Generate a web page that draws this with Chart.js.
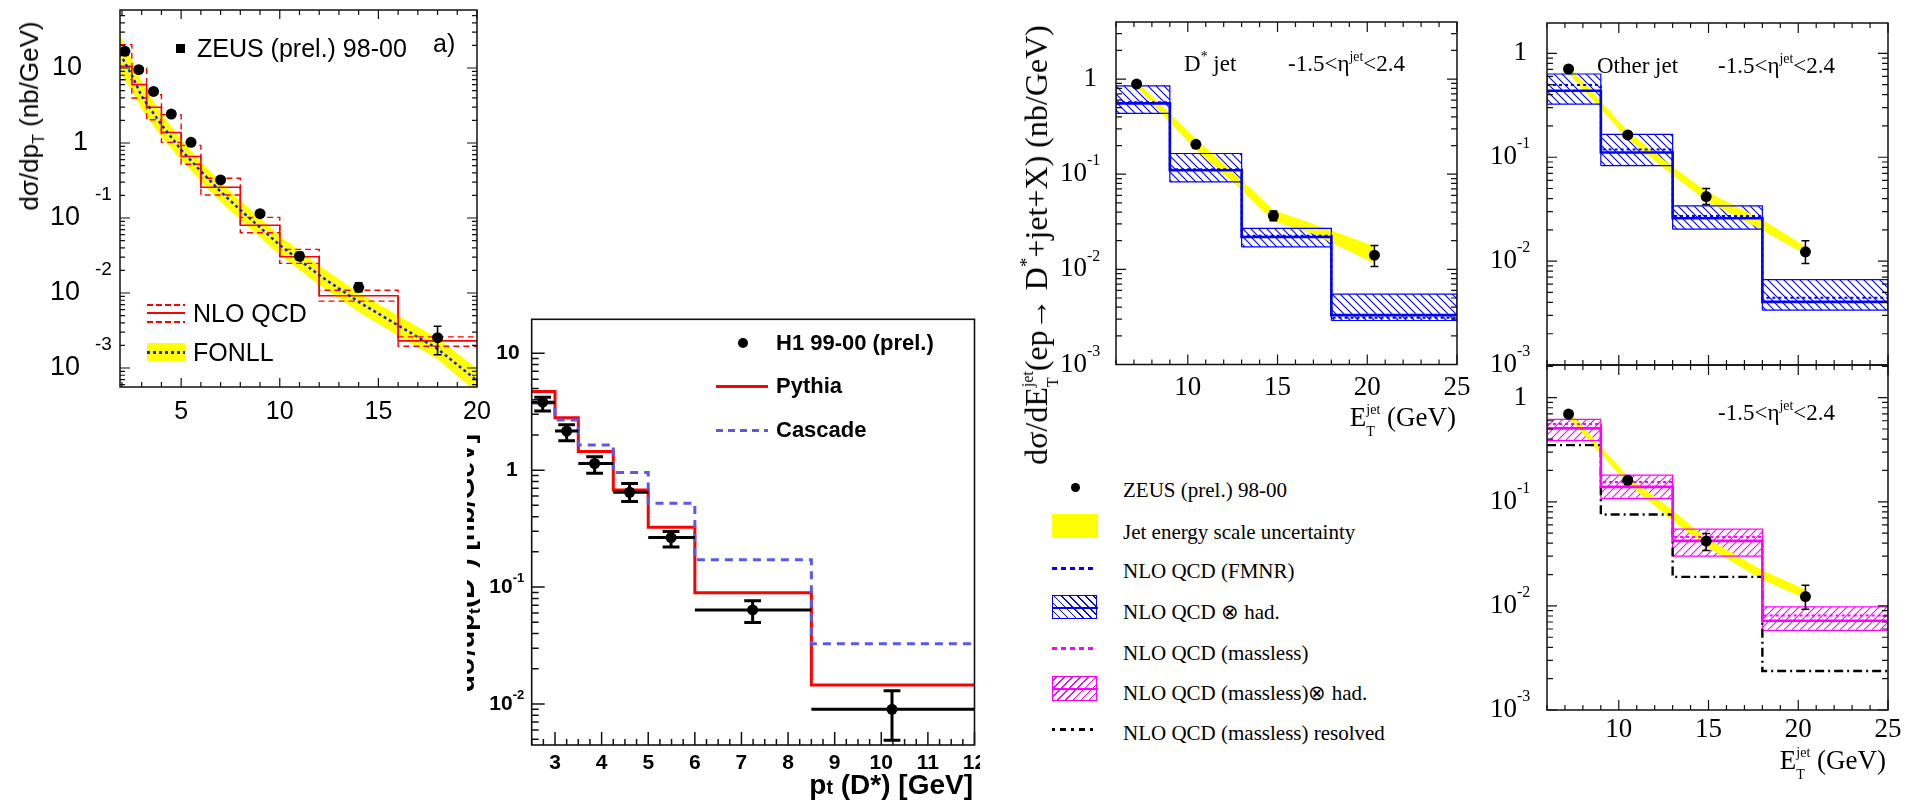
<!DOCTYPE html>
<html>
<head>
<meta charset="utf-8">
<script src="https://cdn.jsdelivr.net/npm/chart.js@4.4.1/dist/chart.umd.min.js"></script>
<style>
  html, body { margin: 0; padding: 0; background: #fff; }
  body { width: 1918px; height: 805px; position: relative; overflow: hidden; }
  canvas { position: absolute; }
  .t { position: absolute; white-space: nowrap; line-height: 1; color: #000; transform: translateY(-50%); }
  .r { transform: translate(-100%, -50%); }
  .rot { transform: translate(-50%, -50%) rotate(-90deg); }
  .sans { font-family: "Liberation Sans", Arial, sans-serif; }
  .serif { font-family: "Liberation Serif", "Times New Roman", serif; }
  .b { font-weight: bold; }
  sup { font-size: 0.6em; vertical-align: baseline; position: relative; top: -0.75em; }
  sub { font-size: 0.62em; vertical-align: baseline; position: relative; top: 0.35em; }
  .ss { position: relative; display: inline-block; }
  .ss .hi { position: relative; }
  .ss .lo { position: absolute; left: 0; }
  .sym { position: absolute; }
  .clip { position: absolute; overflow: hidden; }
  .rdash { background: repeating-linear-gradient(90deg, #f00 0 6px, transparent 6px 9px); height: 1.5px; }
</style>
</head>
<body>
<canvas id="cA"></canvas>
<canvas id="cB"></canvas>
<canvas id="cC"></canvas>
<canvas id="cD"></canvas>
<canvas id="cE"></canvas>

<!-- a) legend and titles -->
<div class="sym" style="left:176px;top:44px;width:9px;height:9px;background:#000"></div>
<div class="t sans" style="left:197px;top:48px;font-size:25px">ZEUS (prel.) 98-00</div>
<div class="t sans" style="left:433px;top:43px;font-size:25px">a)</div>
<div class="sym rdash" style="left:147px;top:304px;width:38px"></div>
<div class="sym" style="left:147px;top:312px;width:38px;height:2px;background:#f00"></div>
<div class="sym rdash" style="left:147px;top:321px;width:38px"></div>
<div class="t sans" style="left:193px;top:313px;font-size:25px">NLO QCD</div>
<div class="sym" style="left:147px;top:343px;width:38px;height:18px;background:#ff0"></div>
<div class="sym" style="left:147px;top:351px;width:38px;height:2.5px;background:repeating-linear-gradient(90deg,#1a1aff 0 3px,transparent 3px 6px)"></div>
<div class="t sans" style="left:193px;top:352px;font-size:25px">FONLL</div>
<div class="t sans rot" style="left:29px;top:116px;font-size:26px">dσ/dp<sub>T</sub> (nb/GeV)</div>

<!-- H1 panel legend and titles -->
<div class="clip" style="left:467px;top:420px;width:30px;height:300px">
  <div class="t sans b rot" style="left:-2px;top:143px;font-size:28px">dσ/dp<sub>t</sub>(D*) [nb/GeV]</div>
</div>
<div class="sym" style="left:738px;top:338px;width:10px;height:10px;border-radius:50%;background:#000"></div>
<div class="t sans b" style="left:776px;top:343px;font-size:22px">H1 99-00 (prel.)</div>
<div class="sym" style="left:716px;top:385px;width:52px;height:3px;background:#f00"></div>
<div class="t sans b" style="left:776px;top:386px;font-size:22px">Pythia</div>
<div class="sym" style="left:716px;top:429px;width:52px;height:3px;background:repeating-linear-gradient(90deg,#5a5ae6 0 7px,transparent 7px 12px)"></div>
<div class="t sans b" style="left:776px;top:430px;font-size:22px">Cascade</div>
<div class="t sans b r" style="left:973px;top:785px;font-size:28px">p<span style="font-size:0.7em">t</span> (D*) [GeV]</div>

<!-- D* jet / other jet panels: texts -->
<div class="t serif" style="left:1184px;top:63px;font-size:23px">D<sup>*</sup> jet</div>
<div class="t serif" style="left:1288px;top:63px;font-size:23px">-1.5&lt;η<sup>jet</sup>&lt;2.4</div>
<div class="t serif" style="left:1597px;top:65px;font-size:23px">Other jet</div>
<div class="t serif" style="left:1718px;top:65px;font-size:23px">-1.5&lt;η<sup>jet</sup>&lt;2.4</div>
<div class="t serif" style="left:1718px;top:412px;font-size:23px">-1.5&lt;η<sup>jet</sup>&lt;2.4</div>
<div class="t serif r" style="left:1456px;top:417px;font-size:27px">E<span class="ss"><span class="hi" style="font-size:14px;top:-12px">jet</span><span class="lo" style="font-size:14px;top:21px">T</span></span> (GeV)</div>
<div class="t serif r" style="left:1886px;top:760px;font-size:27px">E<span class="ss"><span class="hi" style="font-size:14px;top:-12px">jet</span><span class="lo" style="font-size:14px;top:21px">T</span></span> (GeV)</div>
<div class="t serif rot" style="left:1036px;top:245px;font-size:32px">dσ/dE<span class="ss"><span class="hi" style="font-size:16px;top:-14px">jet</span><span class="lo" style="font-size:16px;top:25px">T</span></span>(ep→ D<sup>*</sup>+jet+X) (nb/GeV)</div>

<!-- jet panels legend -->
<div class="sym" style="left:1071px;top:483px;width:9px;height:9px;border-radius:50%;background:#000"></div>
<div class="t serif" style="left:1123px;top:490px;font-size:21px">ZEUS (prel.) 98-00</div>
<div class="sym" style="left:1052px;top:514px;width:46px;height:24px;background:#ff0"></div>
<div class="t serif" style="left:1123px;top:532px;font-size:21px">Jet energy scale uncertainty</div>
<div class="sym" style="left:1052px;top:567px;width:44px;height:3px;background:repeating-linear-gradient(90deg,#00f 0 5px,transparent 5px 9px)"></div>
<div class="t serif" style="left:1123px;top:571px;font-size:21px">NLO QCD (FMNR)</div>
<div class="sym" style="left:1052px;top:595px;width:43px;height:22px;border:1.5px solid #00f;background:repeating-linear-gradient(45deg,transparent 0 4.4px,#00f 4.4px 5.6px)"></div>
<div class="sym" style="left:1052px;top:607px;width:46px;height:2px;background:#00f"></div>
<div class="t serif" style="left:1123px;top:612px;font-size:21px">NLO QCD ⊗ had.</div>
<div class="sym" style="left:1052px;top:647px;width:44px;height:3px;background:repeating-linear-gradient(90deg,#f0f 0 5px,transparent 5px 9px)"></div>
<div class="t serif" style="left:1123px;top:653px;font-size:21px">NLO QCD (massless)</div>
<div class="sym" style="left:1052px;top:676px;width:43px;height:23px;border:1.5px solid #f0f;background:repeating-linear-gradient(-45deg,transparent 0 4.4px,#f0f 4.4px 5.6px)"></div>
<div class="sym" style="left:1052px;top:688px;width:46px;height:2px;background:#f0f"></div>
<div class="t serif" style="left:1123px;top:693px;font-size:21px">NLO QCD (massless)⊗ had.</div>
<div class="sym" style="left:1052px;top:728px;width:44px;height:3px;background:repeating-linear-gradient(90deg,#000 0 3px,transparent 3px 8px,#000 8px 14px,transparent 14px 19px)"></div>
<div class="t serif" style="left:1123px;top:733px;font-size:21px">NLO QCD (massless) resolved</div>

<script>
// ---- a) ZEUS D* cross section vs pT ----
const aPtX  = [2.15, 2.85, 3.6, 4.5, 5.5, 7, 9, 11, 14, 18];
const aPtY  = [16.7, 9.5, 4.87, 2.43, 1.02, 0.322, 0.114, 0.031, 0.0119, 0.00254];
const aPtLo = [15.2, 8.8, 4.5, 2.25, 0.95, 0.30, 0.106, 0.0275, 0.0104, 0.0015];
const aPtHi = [18.3, 10.2, 5.25, 2.62, 1.09, 0.345, 0.123, 0.0348, 0.0137, 0.0036];
const aNloEdges = [1.9, 2.5, 3.25, 4, 5, 6, 8, 10, 12, 16, 20];
const aNloMid = [10.5, 6.0, 3.0, 1.38, 0.66, 0.257, 0.080, 0.0304, 0.0092, 0.0023];
const aNloUp  = [20.5, 10.0, 4.4, 2.38, 0.93, 0.339, 0.102, 0.0381, 0.0109, 0.0026];
const aNloDn  = [7.0, 3.97, 2.04, 1.02, 0.52, 0.203, 0.0637, 0.0248, 0.0078, 0.00195];
const aFonllX   = [1.9, 2.5, 3, 4, 5, 6, 7, 8, 10, 12, 14, 16, 18, 20];
const aFonllMid = [15.5, 8.0, 4.2, 1.75, 0.81, 0.42, 0.225, 0.128, 0.0435, 0.0173, 0.0076, 0.0037, 0.0018, 0.00068];
const aFonllUp  = [28, 13, 6.4, 2.5, 1.1, 0.56, 0.30, 0.17, 0.058, 0.023, 0.0101, 0.005, 0.0025, 0.00098];
const aFonllDn  = [8.8, 5.0, 2.8, 1.2, 0.59, 0.31, 0.165, 0.095, 0.032, 0.0128, 0.0056, 0.0027, 0.0013, 0.00047];

// ---- H1 D* cross section vs pt ----
const bEdges  = [2.5, 3, 3.5, 4.25, 5, 6, 8.5, 12];
const bH1X    = [2.735, 3.25, 3.85, 4.6, 5.49, 7.24, 10.23];
const bH1Y    = [3.81, 2.16, 1.14, 0.647, 0.265, 0.0637, 0.0090];
const bH1Lo   = [3.2, 1.78, 0.94, 0.54, 0.22, 0.0497, 0.0049];
const bH1Hi   = [4.2, 2.45, 1.3, 0.77, 0.298, 0.0763, 0.0130];
const bPythia  = [4.7, 2.8, 1.44, 0.678, 0.325, 0.0896, 0.01456];
const bCascade = [3.75, 2.68, 1.64, 0.953, 0.521, 0.171, 0.0327];

// ---- jet ET panels ----
const jetEdges = [6, 9, 13, 18, 25];
// D* jet
const cX  = [7.15, 10.45, 14.77, 20.4];
const cY  = [0.886, 0.206, 0.0366, 0.0141];
const cLo = [0.85, 0.195, 0.0325, 0.0107];
const cHi = [0.92, 0.217, 0.041, 0.0178];
const cHadHi  = [0.85, 0.165, 0.027, 0.0055];
const cHadLo  = [0.435, 0.083, 0.0172, 0.0029];
const cHadMid = [0.555, 0.110, 0.0219, 0.0033];
const cFmnr   = [0.57, 0.113, 0.0226, 0.0031];
const cBandX  = [7.15, 10.45, 13, 14.77, 17, 20.4];
const cBandHi = [0.95, 0.235, 0.087, 0.042, 0.030, 0.0175];
const cBandLo = [0.82, 0.18, 0.068, 0.032, 0.0235, 0.0115];
// other jet
const dX  = [7.2, 10.5, 14.87, 20.4];
const dY  = [0.707, 0.164, 0.0418, 0.0123];
const dLo = [0.68, 0.156, 0.035, 0.0095];
const dHi = [0.735, 0.172, 0.05, 0.0157];
const dHadHi  = [0.633, 0.166, 0.0341, 0.00663];
const dHadLo  = [0.325, 0.083, 0.0203, 0.00338];
const dHadMid = [0.437, 0.111, 0.0259, 0.00405];
const dFmnr   = [0.496, 0.119, 0.0272, 0.00445];
const dBandX  = [7.2, 10.5, 13, 14.87, 18, 20.4];
const dBandHi = [0.76, 0.178, 0.081, 0.047, 0.025, 0.0138];
const dBandLo = [0.64, 0.15, 0.067, 0.038, 0.0198, 0.0116];
// other jet, massless calculation
const eX  = [7.2, 10.5, 14.87, 20.4];
const eY  = [0.696, 0.161, 0.0419, 0.0123];
const eLo = [0.67, 0.153, 0.034, 0.0093];
const eHi = [0.72, 0.169, 0.0497, 0.0158];
const eMlHi  = [0.618, 0.180, 0.0546, 0.0098];
const eMlLo  = [0.386, 0.107, 0.0301, 0.0058];
const eMlMid = [0.507, 0.139, 0.0421, 0.0072];
const eMassless = [0.558, 0.155, 0.046, 0.0081];
const eResolved = [0.35, 0.0755, 0.019, 0.00237];
const eBandX  = [7.2, 10.5, 13, 14.87, 18, 20.4];
const eBandHi = [0.75, 0.175, 0.083, 0.045, 0.022, 0.0143];
const eBandLo = [0.64, 0.148, 0.066, 0.037, 0.0178, 0.0117];

// ---------- helpers ----------
const pts = (xs, ys) => xs.map((x, i) => ({x, y: ys[i]}));
const steps = (edges, vals) => edges.map((e, i) => ({x: e, y: vals[Math.min(i, vals.length - 1)]}));
const vbars = (xs, lo, hi) => xs.flatMap((x, i) => [{x, y: lo[i]}, {x, y: hi[i]}, {x, y: null}]);
const caps = (xs, ys, w) => xs.flatMap((x, i) => [{x: x - w, y: ys[i]}, {x: x + w, y: ys[i]}, {x, y: null}]);
const hbars = (edges, ys) => ys.flatMap((y, i) => [{x: edges[i], y}, {x: edges[i + 1], y}, {x: edges[i + 1], y: null}]);
const boxes = (edges, lo, hi) => lo.flatMap((l, i) => [
  {x: edges[i], y: l}, {x: edges[i], y: hi[i]}, {x: edges[i + 1], y: hi[i]},
  {x: edges[i + 1], y: l}, {x: edges[i], y: l}, {x: edges[i + 1], y: null}
]);

function line(data, color, width, dash, order, extra) {
  return Object.assign({
    type: 'line', data, borderColor: color, borderWidth: width, borderDash: dash || [],
    pointRadius: 0, fill: false, spanGaps: false, tension: 0, order
  }, extra || {});
}
function markers(xs, ys, r) {
  return {
    type: 'line', data: pts(xs, ys), showLine: false, pointRadius: r,
    pointBackgroundColor: '#000', pointBorderColor: '#000', pointBorderWidth: 0, order: 0
  };
}
function band(xs, hi, lo, color, order) {
  return [
    line(pts(xs, hi), 'rgba(0,0,0,0)', 0, null, order),
    line(pts(xs, lo), 'rgba(0,0,0,0)', 0, null, order, {fill: '-1', backgroundColor: color})
  ];
}
function makeHatch(color, dir) {
  const s = 8;
  const c = document.createElement('canvas');
  c.width = s; c.height = s;
  const g = c.getContext('2d');
  g.strokeStyle = color;
  g.lineWidth = 1.1;
  g.beginPath();
  if (dir === 'back') {
    g.moveTo(-1, -1); g.lineTo(s + 1, s + 1);
    g.moveTo(-1, s - 1); g.lineTo(1, s + 1);
    g.moveTo(s - 1, -1); g.lineTo(s + 1, 1);
  } else {
    g.moveTo(-1, s + 1); g.lineTo(s + 1, -1);
    g.moveTo(-1, 1); g.lineTo(1, -1);
    g.moveTo(s - 1, s + 1); g.lineTo(s + 1, s - 1);
  }
  g.stroke();
  return g.createPattern(c, 'repeat');
}
function hatchFills(edges, lo, hi, pattern) {
  return lo.map((l, i) => ({
    type: 'line', data: [{x: edges[i], y: hi[i]}, {x: edges[i + 1], y: hi[i]}],
    borderWidth: 0, borderColor: 'rgba(0,0,0,0)', pointRadius: 0,
    fill: {value: l}, backgroundColor: pattern, order: 9
  }));
}

// frame, inward ticks and tick labels, drawn ROOT style
function makeDecor(cfg) {
  return {
    id: 'decor',
    afterDraw(chart) {
      const {ctx, chartArea: a, scales: {x, y}} = chart;
      ctx.save();
      ctx.strokeStyle = '#111';
      ctx.lineWidth = cfg.frameWidth || 1.5;
      ctx.strokeRect(a.left, a.top, a.right - a.left, a.bottom - a.top);
      ctx.lineWidth = cfg.tickWidth || 1.2;
      ctx.beginPath();
      const i0 = Math.ceil(x.min / cfg.xMinor - 1e-6), i1 = Math.floor(x.max / cfg.xMinor + 1e-6);
      for (let i = i0; i <= i1; i++) {
        const v = i * cfg.xMinor;
        const px = x.getPixelForValue(v);
        const r = v / cfg.xMajor;
        const len = Math.abs(r - Math.round(r)) < 1e-6 ? cfg.xMajorLen : cfg.xMinorLen;
        if (cfg.xSides.includes('bottom')) { ctx.moveTo(px, a.bottom); ctx.lineTo(px, a.bottom - len); }
        if (cfg.xSides.includes('top')) { ctx.moveTo(px, a.top); ctx.lineTo(px, a.top + len); }
      }
      const e0 = Math.floor(Math.log10(y.min) + 1e-6), e1 = Math.ceil(Math.log10(y.max));
      for (let e = e0; e <= e1; e++) {
        for (let k = 1; k < 10; k++) {
          const v = k * Math.pow(10, e);
          if (v < y.min * 0.999 || v > y.max * 1.001) continue;
          const py = y.getPixelForValue(v);
          const len = k === 1 ? cfg.yMajorLen : cfg.yMinorLen;
          if (cfg.ySides.includes('left')) { ctx.moveTo(a.left, py); ctx.lineTo(a.left + len, py); }
          if (cfg.ySides.includes('right')) { ctx.moveTo(a.right, py); ctx.lineTo(a.right - len, py); }
        }
      }
      ctx.stroke();

      ctx.fillStyle = '#000';
      ctx.textBaseline = 'middle';
      ctx.font = cfg.xFont || cfg.font;
      ctx.textAlign = 'center';
      for (const v of cfg.xLabels) {
        ctx.fillText(String(v), x.getPixelForValue(v), a.bottom + cfg.xLabelDy);
      }
      for (const l of cfg.yLabels) {
        const py = y.getPixelForValue(l.v);
        ctx.font = cfg.font;
        ctx.textAlign = 'right';
        ctx.fillText(l.t, a.left - l.r, py);
        if (l.e) {
          ctx.font = cfg.expFont;
          ctx.textAlign = 'left';
          ctx.fillText(l.e, a.left - cfg.expX, py + cfg.expDy);
        }
      }
      ctx.restore();
    }
  };
}

function makeChart(id, box, pad, xr, yr, datasets, decor) {
  const cv = document.getElementById(id);
  cv.style.left = box[0] + 'px';
  cv.style.top = box[1] + 'px';
  cv.width = box[2];
  cv.height = box[3];
  return new Chart(cv, {
    type: 'line',
    data: {datasets},
    options: {
      responsive: false,
      animation: false,
      events: [],
      layout: {padding: pad},
      plugins: {legend: {display: false}, tooltip: {enabled: false}},
      scales: {
        x: {type: 'linear', min: xr[0], max: xr[1], bounds: 'data', display: false},
        y: {type: 'logarithmic', min: yr[0], max: yr[1], bounds: 'data', display: false}
      }
    },
    plugins: [makeDecor(decor)]
  });
}

// ---------- a) ----------
makeChart('cA', [0, 0, 490, 440], {left: 120, top: 10, right: 13, bottom: 53}, [1.9, 20], [5.58e-4, 59.3], [
  ...band(aFonllX, aFonllUp, aFonllDn, '#ffff00', 9),
  line(pts(aFonllX, aFonllMid), '#1a1aff', 2.5, [3, 3], 3),
  line(steps(aNloEdges, aNloMid), '#ff0000', 1.6, null, 4, {stepped: 'before'}),
  line(steps(aNloEdges, aNloUp), '#ff0000', 1.4, [6, 4], 4, {stepped: 'before'}),
  line(steps(aNloEdges, aNloDn), '#ff0000', 1.4, [6, 4], 4, {stepped: 'before'}),
  line(vbars(aPtX, aPtLo, aPtHi), '#000', 1.6, null, 1),
  line(caps(aPtX, aPtLo, 0.2), '#000', 1.6, null, 1),
  line(caps(aPtX, aPtHi, 0.2), '#000', 1.6, null, 1),
  markers(aPtX, aPtY, 5.5)
], {
  xMajor: 5, xMinor: 1, xMajorLen: 9, xMinorLen: 5, xSides: ['bottom', 'top'],
  yMajorLen: 10, yMinorLen: 5, ySides: ['left', 'right'],
  font: '27px "Liberation Sans"', expFont: '19px "Liberation Sans"', xFont: '25px "Liberation Sans"',
  xLabels: [5, 10, 15, 20], xLabelDy: 25,
  yLabels: [{v: 10, t: '10', r: 38}, {v: 1, t: '1', r: 32}, {v: 0.1, t: '10', e: '-1', r: 40},
            {v: 0.01, t: '10', e: '-2', r: 40}, {v: 0.001, t: '10', e: '-3', r: 40}],
  expX: 25, expDy: -23
});

// ---------- H1 ----------
makeChart('cB', [460, 300, 520, 505], {left: 71.7, top: 19.3, right: 5, bottom: 60}, [2.5, 12], [0.00446, 19.5], [
  line(steps(bEdges, bCascade), '#5a5ae6', 3, [8, 6], 4, {stepped: 'before'}),
  line(steps(bEdges, bPythia), '#ff0000', 3, null, 5, {stepped: 'before'}),
  line(vbars(bH1X, bH1Lo, bH1Hi), '#000', 3, null, 1),
  line(hbars(bEdges, bH1Y), '#000', 3, null, 1),
  line(caps(bH1X, bH1Lo, 0.18), '#000', 3, null, 1),
  line(caps(bH1X, bH1Hi, 0.18), '#000', 3, null, 1),
  markers(bH1X, bH1Y, 5.5)
], {
  xMajor: 1, xMinor: 0.25, xMajorLen: 13, xMinorLen: 6, xSides: ['bottom'],
  yMajorLen: 13, yMinorLen: 7, ySides: ['left'], frameWidth: 1.6, tickWidth: 1.5,
  font: 'bold 21px "Liberation Sans"', expFont: 'bold 13px "Liberation Sans"',
  xLabels: [3, 4, 5, 6, 7, 8, 9, 10, 11, 12], xLabelDy: 18,
  yLabels: [{v: 10, t: '10', r: 12}, {v: 1, t: '1', r: 14}, {v: 0.1, t: '10', e: '-1', r: 19},
            {v: 0.01, t: '10', e: '-2', r: 19}],
  expX: 19, expDy: -9
});

// ---------- jet panels ----------
const blueHatch = makeHatch('#0000ff', 'back');
const pinkHatch = makeHatch('#ff00ff', 'fwd');

function jetDecor(xLabels, xLabelDy, r) {
  return {
    xMajor: 5, xMinor: 1, xMajorLen: 10, xMinorLen: 5, xSides: ['bottom', 'top'],
    yMajorLen: 10, yMinorLen: 6, ySides: ['left', 'right'],
    font: '27px "Liberation Serif"', expFont: '16px "Liberation Serif"',
    xLabels, xLabelDy,
    yLabels: [{v: 1, t: '1', r: r - 10}, {v: 0.1, t: '10', e: '-1', r}, {v: 0.01, t: '10', e: '-2', r},
              {v: 0.001, t: '10', e: '-3', r}],
    expX: r, expDy: -13
  };
}

makeChart('cC', [1030, 0, 440, 440], {left: 86, top: 22, right: 13, bottom: 75.5}, [6, 25], [0.001, 3.98], [
  ...hatchFills(jetEdges, cHadLo, cHadHi, blueHatch),
  ...band(cBandX, cBandHi, cBandLo, '#ffff00', 8),
  line(boxes(jetEdges, cHadLo, cHadHi), '#0000ff', 1.2, null, 7),
  line(steps(jetEdges, cFmnr), '#0000ff', 2, [3, 3], 5, {stepped: 'before'}),
  line(steps(jetEdges, cHadMid), '#0000ff', 2.6, null, 4, {stepped: 'before'}),
  line(vbars(cX, cLo, cHi), '#000', 1.5, null, 1),
  line(caps(cX, cLo, 0.22), '#000', 1.5, null, 1),
  line(caps(cX, cHi, 0.22), '#000', 1.5, null, 1),
  markers(cX, cY, 5.5)
], jetDecor([10, 15, 20, 25], 23, 29));

makeChart('cD', [1480, 0, 438, 440], {left: 67, top: 23, right: 30, bottom: 75}, [6, 25], [0.001, 1.96], [
  ...hatchFills(jetEdges, dHadLo, dHadHi, blueHatch),
  ...band(dBandX, dBandHi, dBandLo, '#ffff00', 8),
  line(boxes(jetEdges, dHadLo, dHadHi), '#0000ff', 1.2, null, 7),
  line(steps(jetEdges, dFmnr), '#0000ff', 2, [3, 3], 5, {stepped: 'before'}),
  line(steps(jetEdges, dHadMid), '#0000ff', 2.6, null, 4, {stepped: 'before'}),
  line(vbars(dX, dLo, dHi), '#000', 1.5, null, 1),
  line(caps(dX, dLo, 0.22), '#000', 1.5, null, 1),
  line(caps(dX, dHi, 0.22), '#000', 1.5, null, 1),
  markers(dX, dY, 5.5)
], jetDecor([], 0, 30));

makeChart('cE', [1480, 350, 438, 455], {left: 67, top: 15, right: 30, bottom: 95}, [6, 25], [0.001, 2.06], [
  ...hatchFills(jetEdges, eMlLo, eMlHi, pinkHatch),
  ...band(eBandX, eBandHi, eBandLo, '#ffff00', 8),
  line(boxes(jetEdges, eMlLo, eMlHi), '#ff00ff', 1.2, null, 7),
  line(steps(jetEdges, eResolved), '#000', 2.4, [9, 4, 2, 4], 6, {stepped: 'before'}),
  line(steps(jetEdges, eMassless), '#ff00ff', 2, [3, 3], 5, {stepped: 'before'}),
  line(steps(jetEdges, eMlMid), '#ff00ff', 2.6, null, 4, {stepped: 'before'}),
  line(vbars(eX, eLo, eHi), '#000', 1.5, null, 1),
  line(caps(eX, eLo, 0.22), '#000', 1.5, null, 1),
  line(caps(eX, eHi, 0.22), '#000', 1.5, null, 1),
  markers(eX, eY, 5.5)
], jetDecor([10, 15, 20, 25], 20, 30));
</script>
</body>
</html>
